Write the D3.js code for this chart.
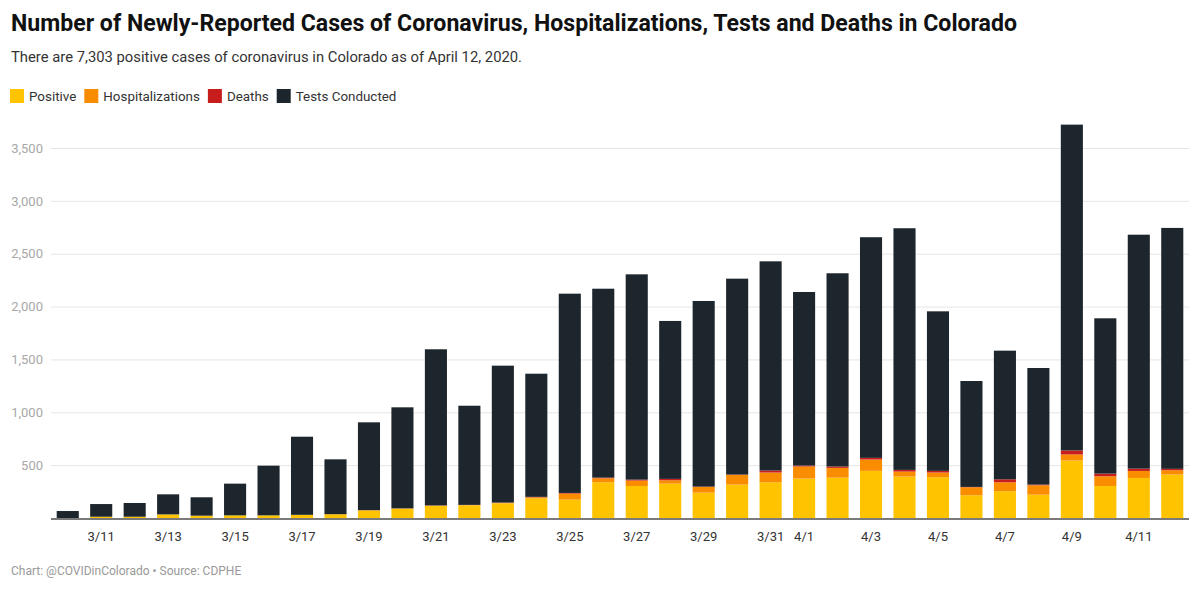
<!DOCTYPE html>
<html>
<head>
<meta charset="utf-8">
<script src="https://cdn.jsdelivr.net/npm/d3@7"></script>
<style>
  body { margin: 0; background: #fff; }
  svg { font-family: Roboto, "Noto Sans", sans-serif; }
</style>
</head>
<body>
<div id="chart"></div>
<script>
// daily values
const dates = ["3/10","3/11","3/12","3/13","3/14","3/15","3/16","3/17","3/18","3/19","3/20",
  "3/21","3/22","3/23","3/24","3/25","3/26","3/27","3/28","3/29","3/30","3/31",
  "4/1","4/2","4/3","4/4","4/5","4/6","4/7","4/8","4/9","4/10","4/11","4/12"];
const positive = [0,12,12,34,22,25,25,30,36,70,88,114,120,139,186,174,338,303,325,240,316,338,
  373,382,446,392,386,215,253,221,544,303,379,411];
const hospitalizations = [0,0,0,0,0,0,0,0,0,4,3,4,3,5,10,57,38,51,32,54,92,92,
  114,92,107,47,44,76,85,89,57,92,66,41];
const deaths = [0,0,0,0,0,0,0,0,0,0,0,1,1,2,4,6,6,9,13,3,3,19,
  9,13,16,16,16,3,28,6,38,25,22,13];
const tests = [66,120,130,190,174,300,470,739,519,831,956,1477,938,1295,1165,1885,1787,1942,1494,1756,1853,1979,
  1642,1828,2087,2286,1509,1002,1217,1103,3082,1469,2213,2279];

const seriesNames = ["Positive", "Hospitalizations", "Deaths", "Tests Conducted"];
const seriesColors = ["#ffc300", "#fa8c00", "#c71e1d", "#1d262c"];
const yTicks = [500, 1000, 1500, 2000, 2500, 3000, 3500];
const xTickLabels = ["3/11","3/13","3/15","3/17","3/19","3/21","3/23","3/25","3/27","3/29","3/31",
  "4/1","4/3","4/5","4/7","4/9","4/11"];

const width = 1200, height = 597;
const plotLeft = 51, plotRight = 1189, plotTop = 148, plotBottom = 518;

const rows = dates.map((d, i) => ({
  date: d,
  "Positive": positive[i],
  "Hospitalizations": hospitalizations[i],
  "Deaths": deaths[i],
  "Tests Conducted": tests[i]
}));

const svg = d3.select("#chart").append("svg")
  .attr("width", width)
  .attr("height", height);

function fit(sel, w) {
  const len = sel.node().getComputedTextLength();
  if (Math.abs(len - w) > 2) sel.attr("textLength", w).attr("lengthAdjust", "spacingAndGlyphs");
}

// header
svg.append("text")
  .attr("x", 11).attr("y", 31)
  .style("font-size", "23px").style("font-weight", 700).style("fill", "#111")
  .text("Number of Newly-Reported Cases of Coronavirus, Hospitalizations, Tests and Deaths in Colorado")
  .call(fit, 1006);

svg.append("text")
  .attr("x", 11).attr("y", 62)
  .style("font-size", "15.5px").style("fill", "#333")
  .text("There are 7,303 positive cases of coronavirus in Colorado as of April 12, 2020.")
  .call(fit, 511);

// legend, laid out left to right by measured label width
const legend = svg.append("g").attr("class", "legend");
let lx = 10;
seriesNames.forEach((name, i) => {
  const item = legend.append("g").attr("transform", `translate(${lx},89)`);
  item.append("rect")
    .attr("width", 14).attr("height", 14)
    .style("fill", seriesColors[i]);
  const label = item.append("text")
    .attr("x", 19).attr("y", 12)
    .style("font-size", "13.4px").style("fill", "#333")
    .text(name);
  lx += 19 + label.node().getComputedTextLength() + 8;
});

const x = d3.scaleBand()
  .domain(dates)
  .range([plotLeft, plotRight])
  .paddingInner(0.34)
  .paddingOuter(0.17);

const y = d3.scaleLinear()
  .domain([0, 3500])
  .range([plotBottom, plotTop]);

// gridlines + y labels
const yAxis = svg.append("g")
  .attr("transform", `translate(${plotLeft},0)`)
  .call(d3.axisLeft(y).tickValues(yTicks).tickSize(-(plotRight - plotLeft)).tickFormat(d3.format(",")));
yAxis.select(".domain").remove();
yAxis.selectAll(".tick line").style("stroke", "#e6e6e6");
yAxis.selectAll(".tick text")
  .attr("x", -8)
  .style("font-size", "13px").style("fill", "#a8a8a8")
  .style("font-family", "Roboto, sans-serif");

// stacked bars
const stack = d3.stack().keys(seriesNames);
const layers = stack(rows);

svg.append("g").attr("class", "bars")
  .selectAll("g")
  .data(layers)
  .enter().append("g")
  .style("fill", (d, i) => seriesColors[i])
  .selectAll("rect")
  .data(d => d)
  .enter().append("rect")
  .attr("x", d => x(d.data.date))
  .attr("width", x.bandwidth())
  .attr("y", d => y(d[1]))
  .attr("height", d => Math.max(0, y(d[0]) - y(d[1])));

// baseline
svg.append("line")
  .attr("x1", plotLeft).attr("x2", plotRight)
  .attr("y1", plotBottom + 1).attr("y2", plotBottom + 1)
  .style("stroke", "#7a7a7a").style("stroke-width", 2);

// x labels
const xAxis = svg.append("g")
  .attr("transform", `translate(0,${plotBottom})`)
  .call(d3.axisBottom(x).tickValues(xTickLabels).tickSize(0).tickPadding(14));
xAxis.select(".domain").remove();
xAxis.selectAll(".tick text")
  .style("font-size", "13px").style("fill", "#333")
  .style("font-family", "Roboto, sans-serif");

// footer
svg.append("text")
  .attr("x", 11).attr("y", 575)
  .style("font-size", "12px").style("fill", "#999")
  .text("Chart: @COVIDinColorado \u2022 Source: CDPHE");
</script>
</body>
</html>
